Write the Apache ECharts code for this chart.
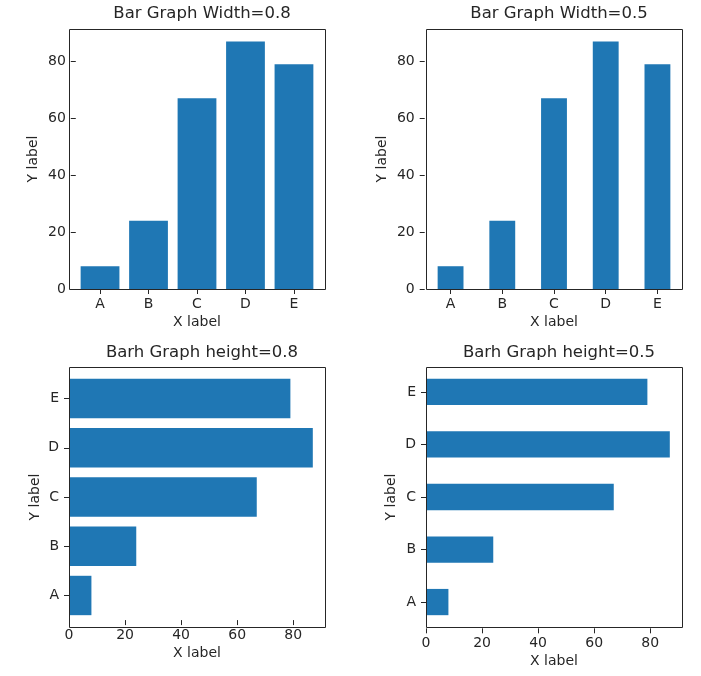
<!DOCTYPE html>
<html>
<head>
<meta charset="utf-8">
<script src="https://cdn.jsdelivr.net/npm/echarts@6/dist/echarts.min.js"></script>
<style>
html,body{margin:0;padding:0;background:#fff;}
#chart{width:701px;height:676px;}
</style>
</head>
<body>
<div id="chart"></div>
<script>
var categories = ['A', 'B', 'C', 'D', 'E'];
var values = [8, 24, 67, 87, 79];
var valueTicks = [0, 20, 40, 60, 80];
var titles = ['Bar Graph Width=0.8', 'Bar Graph Width=0.5', 'Barh Graph height=0.8', 'Barh Graph height=0.5'];
var widths = [0.8, 0.5, 0.8, 0.5];

var FONT = 'DejaVu Sans';
var TXT = '#262626';
var BLUE = '#1f77b4';
var valMax = Math.max.apply(null, values) * 1.05;

// axes frames (pixel boxes of each subplot)
var frames = [
  {left: 69, top: 29, width: 256, height: 260},
  {left: 426, top: 29, width: 256, height: 260},
  {left: 69, top: 367, width: 256, height: 260},
  {left: 426, top: 367, width: 256, height: 260}
];
var yNameGaps = [35, 35, 27, 28];

var option = {
  animation: false,
  backgroundColor: '#fff',
  textStyle: {fontFamily: FONT},
  title: [], grid: [], xAxis: [], yAxis: [], series: [], graphic: []
};

function axisCommon() {
  return {
    axisLine: {show: false, onZero: false},
    axisTick: {show: true, inside: false, length: 5, lineStyle: {color: '#262626', width: 1}},
    splitLine: {show: false},
    axisLabel: {color: TXT, fontSize: 14, fontFamily: FONT, margin: 8},
    nameTextStyle: {color: TXT, fontSize: 14, fontFamily: FONT}
  };
}

for (var k = 0; k < 4; k++) {
  var f = frames[k];
  var horizontal = k >= 2;
  var w = widths[k];
  // matplotlib-like category range with 5% margins
  var lo = -w / 2, hi = categories.length - 1 + w / 2;
  var m = (hi - lo) * 0.05;
  lo -= m; hi += m;
  var span = hi - lo;
  var catLen = horizontal ? f.height : f.width;
  var ppu = catLen / span;
  var offset = (-0.5 - lo) * ppu;
  var bandLen = categories.length * ppu;

  var grid = {left: f.left, top: f.top, width: f.width, height: f.height, show: false};
  if (horizontal) {
    grid.top = f.top + (catLen - offset - bandLen); // y axis grows upward: A at bottom
    grid.height = bandLen;
  } else {
    grid.left = f.left + offset;
    grid.width = bandLen;
  }
  option.grid.push(grid);

  option.graphic.push({
    type: 'rect', z: 100, silent: true,
    shape: {x: f.left + 0.5, y: f.top + 0.5, width: f.width, height: f.height},
    style: {fill: 'none', stroke: '#262626', lineWidth: 1}
  });

  option.title.push({
    text: titles[k],
    left: f.left + f.width / 2, top: horizontal ? 339 : 0, textAlign: 'center',
    textStyle: {color: TXT, fontSize: 16.5, fontWeight: 'normal', fontFamily: FONT}
  });

  var catAxis = axisCommon();
  catAxis.type = 'category';
  catAxis.gridIndex = k;
  catAxis.data = categories;
  catAxis.boundaryGap = true;
  catAxis.axisTick.alignWithLabel = true;

  var valAxis = axisCommon();
  valAxis.type = 'value';
  valAxis.gridIndex = k;
  valAxis.min = 0;
  valAxis.max = valMax;
  valAxis.axisTick.customValues = valueTicks;
  valAxis.axisLabel.customValues = valueTicks;

  var xa = horizontal ? valAxis : catAxis;
  var ya = horizontal ? catAxis : valAxis;
  xa.name = 'X label'; xa.nameLocation = 'middle'; xa.nameGap = 26;
  ya.name = 'Y label'; ya.nameLocation = 'middle'; ya.nameGap = yNameGaps[k];
  ya.axisLabel.margin = 10;
  option.xAxis.push(xa);
  option.yAxis.push(ya);

  option.series.push({
    type: 'bar',
    xAxisIndex: k, yAxisIndex: k,
    barWidth: (w * 100) + '%',
    itemStyle: {color: BLUE},
    data: values
  });
}

var chart = echarts.init(document.getElementById('chart'), null, {renderer: 'canvas'});
chart.setOption(option);
</script>
</body>
</html>
